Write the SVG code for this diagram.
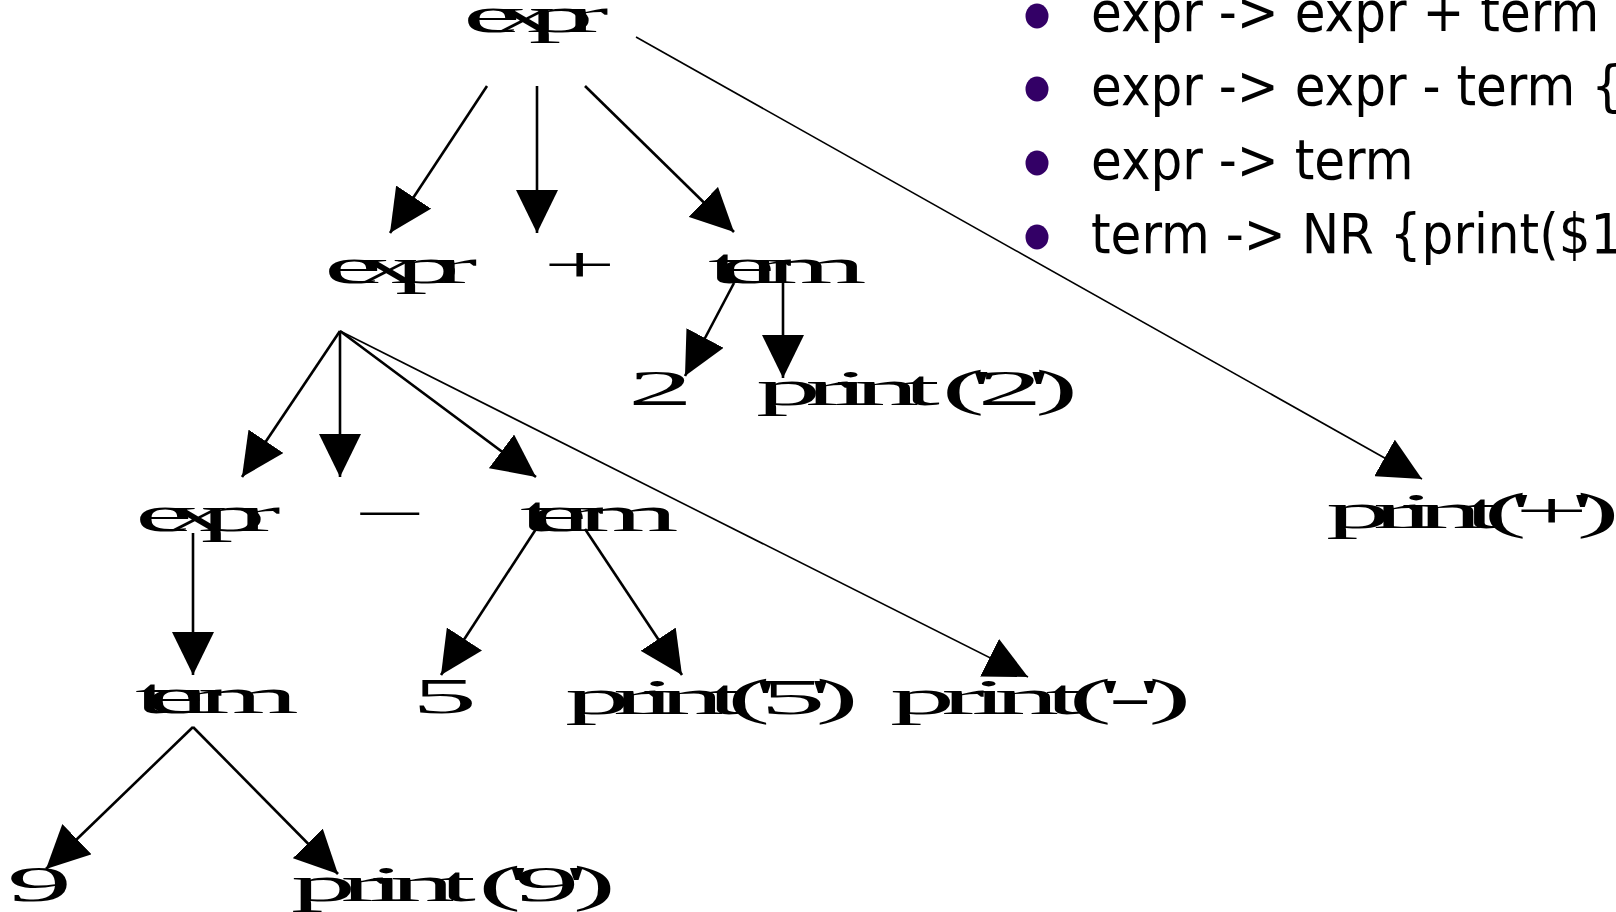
<svg xmlns="http://www.w3.org/2000/svg" width="1616" height="912" viewBox="0 0 1616 912">
  <defs>
    <style>
      .lbl { font-family: "Liberation Serif", "Times New Roman", serif; font-size: 50px; fill: #000; }
      .rule { font-family: "DejaVu Sans", Verdana, sans-serif; font-size: 55px; fill: #000; }
      .dot { fill: #330066; }
      .edge { stroke: #000; stroke-width: 2.6; fill: none; marker-end: url(#head); }
      .edge.long { stroke-width: 1.6; }
    </style>
    <marker id="head" markerUnits="userSpaceOnUse" viewBox="0 0 44 42" markerWidth="44" markerHeight="42" refX="43" refY="21" orient="auto">
      <path d="M0,0 L43,21 L0,42 z" fill="#000"/>
    </marker>
  </defs>
  <rect width="1616" height="912" fill="#fff"/>

  <!-- grammar rules -->
  <g id="rules">
    <ellipse class="dot" cx="1037" cy="16" rx="11.5" ry="12.5"/>
    <ellipse class="dot" cx="1037" cy="89" rx="11.5" ry="12.5"/>
    <ellipse class="dot" cx="1037" cy="163" rx="11.5" ry="12.5"/>
    <ellipse class="dot" cx="1037" cy="237" rx="11.5" ry="12.5"/>
    <text class="rule" transform="translate(1091,31) scale(0.91,1)">expr -&gt; expr + term</text>
    <text class="rule" transform="translate(1091,105) scale(0.91,1)">expr -&gt; expr - term {</text>
    <text class="rule" transform="translate(1091,179) scale(0.91,1)">expr -&gt; term</text>
    <text class="rule" transform="translate(1091,253) scale(0.91,1)">term -&gt; NR {print($1</text>
  </g>

  <!-- parse tree connectors -->
  <g id="connectors">
    <line class="edge" x1="487" y1="86" x2="390" y2="233"/>
    <line class="edge" x1="537" y1="86" x2="537" y2="233"/>
    <line class="edge" x1="585" y1="86" x2="734" y2="232"/>
    <line class="edge long" x1="636" y1="37" x2="1422" y2="479"/>
    <line class="edge" x1="734" y1="283" x2="685" y2="376"/>
    <line class="edge" x1="783" y1="283" x2="783" y2="378"/>
    <line class="edge" x1="340" y1="331" x2="242" y2="477"/>
    <line class="edge" x1="340" y1="331" x2="340" y2="477"/>
    <line class="edge" x1="340" y1="331" x2="536" y2="477"/>
    <line class="edge long" x1="340" y1="331" x2="1028" y2="677"/>
    <line class="edge" x1="193" y1="533" x2="193" y2="675"/>
    <line class="edge" x1="536" y1="529" x2="441" y2="675"/>
    <line class="edge" x1="585" y1="529" x2="682" y2="675"/>
    <line class="edge" x1="193" y1="727" x2="46" y2="869"/>
    <line class="edge" x1="193" y1="727" x2="338" y2="874"/>
  </g>

  <!-- parse tree nodes -->
  <g id="n-expr-root"><text class="lbl" transform="translate(463,32) scale(2.6,1)" textLength="56" lengthAdjust="spacing">expr</text></g>
  <g id="n-expr-1"><text class="lbl" transform="translate(324,283) scale(2.6,1)" textLength="59" lengthAdjust="spacing">expr</text></g>
  <g id="n-plus"><text class="lbl" transform="translate(543,282) scale(2.6,1)">+</text></g>
  <g id="n-term-1"><text class="lbl" transform="translate(708,283) scale(2.6,1)" textLength="61" lengthAdjust="spacing">term</text></g>
  <g id="n-two"><text class="lbl" transform="translate(628,405) scale(2.6,1)">2</text></g>
  <g id="n-print-2"><text class="lbl" transform="translate(756,405) scale(2.6,1)" textLength="124" lengthAdjust="spacing">print ('2')</text></g>
  <g id="n-expr-2"><text class="lbl" transform="translate(135,531) scale(2.6,1)" textLength="56" lengthAdjust="spacing">expr</text></g>
  <g id="n-minus"><text class="lbl" transform="translate(361,526) scale(2.3,1)">–</text></g>
  <g id="n-term-2"><text class="lbl" transform="translate(520,531) scale(2.6,1)" textLength="61" lengthAdjust="spacing">term</text></g>
  <g id="n-print-plus"><text class="lbl" transform="translate(1326,528) scale(2.6,1)" textLength="113" lengthAdjust="spacing">print('+')</text></g>
  <g id="n-term-3"><text class="lbl" transform="translate(135,713) scale(2.6,1)" textLength="63" lengthAdjust="spacing">term</text></g>
  <g id="n-five"><text class="lbl" transform="translate(412,713) scale(2.6,1)">5</text></g>
  <g id="n-print-5"><text class="lbl" transform="translate(565,714) scale(2.6,1)" textLength="113" lengthAdjust="spacing">print('5')</text></g>
  <g id="n-print-minus"><text class="lbl" transform="translate(890,714) scale(2.6,1)" textLength="116" lengthAdjust="spacing">print('-')</text></g>
  <g id="n-nine"><text class="lbl" transform="translate(7,901) scale(2.6,1)">9</text></g>
  <g id="n-print-9"><text class="lbl" transform="translate(291,901) scale(2.6,1)" textLength="125" lengthAdjust="spacing">print ('9')</text></g>
</svg>
